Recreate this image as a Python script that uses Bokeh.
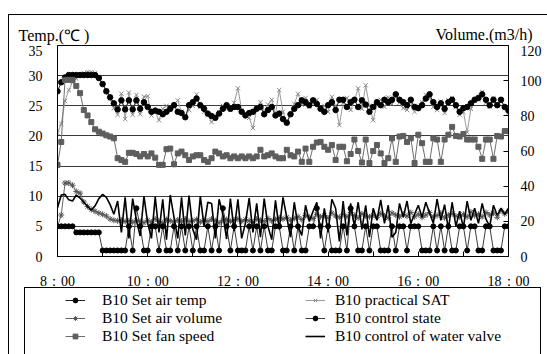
from bokeh.plotting import figure
from bokeh.layouts import column
from bokeh.models import (Range1d, LinearAxis, FixedTicker, Legend, LegendItem, Label)
from bokeh.embed import file_html
from bokeh.resources import INLINE

# ---- data: one sample every 5 minutes from 8:00 to 18:00 ----
minutes = list(range(0, 605, 5))

set_air_temp = [
    27.4, 28.9, 29.7, 30.1, 30.1, 30.1, 30.1, 30.1, 30.1, 30.1, 30.1, 29.6,
    28.6, 27.4, 26.4, 25.4, 24.4, 25.9, 24.4, 25.9, 24.4, 25.9, 24.5, 25.6,
    24.8, 24.0, 24.2, 24.0, 23.6, 24.0, 24.5, 25.1, 24.0, 23.8, 23.1, 25.1,
    25.6, 26.2, 25.1, 24.5, 23.7, 23.3, 23.0, 23.7, 24.5, 25.1, 24.5, 24.8,
    24.8, 24.0, 23.4, 23.8, 24.0, 24.5, 24.8, 23.6, 24.3, 24.8, 23.4, 23.7,
    22.8, 22.2, 23.6, 24.5, 25.1, 25.9, 25.6, 25.1, 25.9, 25.3, 24.5, 24.0,
    25.1, 25.6, 24.3, 26.0, 26.0, 24.8, 25.6, 26.0, 24.8, 25.9, 25.2, 24.0,
    24.8, 25.6, 25.1, 26.0, 25.6, 26.0, 26.9, 26.0, 25.6, 25.1, 26.0, 24.8,
    24.6, 25.1, 26.2, 26.9, 25.6, 24.8, 25.4, 24.5, 25.6, 26.0, 25.1, 24.0,
    24.6, 24.8, 25.4, 26.0, 26.3, 26.9, 26.0, 25.1, 26.0, 25.1, 26.0, 24.8,
    24.2]

practical_sat = [
    20.5, 22.0, 25.8, 27.6, 28.9, 29.5, 30.0, 30.4, 30.6, 30.6, 30.4, 29.8,
    28.7, 27.6, 26.2, 24.6, 23.5, 27.0, 22.8, 27.2, 23.5, 26.8, 23.6, 26.5,
    26.6, 23.4, 24.0, 22.6, 24.5, 25.0, 24.3, 25.2, 25.9, 24.0, 23.2, 24.3,
    25.0, 26.9, 24.8, 24.0, 23.5, 22.3, 23.2, 24.0, 25.0, 24.5, 24.3, 25.5,
    27.9, 24.3, 23.5, 23.0, 21.3, 24.5, 25.6, 24.0, 25.2, 26.0, 23.5, 27.6,
    24.0, 22.1, 23.5, 25.3, 27.0, 25.2, 26.3, 24.8, 25.6, 26.0, 24.5, 25.0,
    24.0, 26.5, 25.0, 21.8, 25.5, 26.3, 24.3, 25.8, 27.9, 24.5, 28.4, 25.0,
    22.6, 25.3, 26.0, 24.8, 26.4, 25.3, 26.5, 25.5, 24.6, 24.3, 25.6, 24.0,
    25.0, 25.6, 26.8, 26.3, 24.8, 24.3, 25.7, 23.8, 25.9, 26.3, 24.8, 23.5,
    24.0, 20.6, 24.5, 25.8, 26.0, 27.3, 25.5, 24.8, 26.3, 25.0, 25.8, 24.6,
    23.8]

set_fan_speed = [
    15.2, 19.0, 29.3, 29.3, 29.3, 28.3, 27.1, 24.3, 23.4, 22.3, 21.1, 20.7,
    20.4, 20.1, 19.9, 19.6, 16.3, 16.0, 15.7, 17.2, 17.2, 17.0, 16.6, 17.0,
    16.6, 17.1, 16.4, 15.2, 15.2, 17.8, 17.9, 15.3, 17.1, 17.4, 16.8, 16.0,
    16.6, 16.8, 16.8, 16.0, 15.7, 16.3, 17.4, 17.1, 16.6, 16.8, 16.3, 16.6,
    16.3, 16.6, 16.3, 16.6, 16.3, 16.6, 17.7, 16.6, 16.8, 17.1, 16.6, 16.3,
    16.3, 17.7, 16.8, 16.6, 17.4, 15.7, 17.9, 15.7, 18.2, 18.9, 19.0, 18.2,
    17.7, 18.5, 16.0, 18.2, 18.2, 15.8, 17.0, 19.4, 17.5, 15.6, 19.4, 15.5,
    17.5, 18.5, 17.1, 15.5, 16.3, 19.6, 15.7, 19.9, 20.0, 19.0, 19.6, 15.5,
    20.2, 18.8, 15.7, 15.7, 19.6, 19.4, 15.7, 19.4, 20.2, 21.5, 20.0, 19.9,
    20.3, 19.4, 19.4, 19.4, 18.2, 16.2, 19.4, 19.4, 16.2, 20.0, 19.9, 20.8,
    20.8]

set_air_volume = [  # m3/h, right axis
    17.0, 23.6, 41.8, 41.8, 40.5, 37.0, 36.0, 31.0, 28.5, 26.7, 25.7, 24.7,
    24.0, 23.0, 21.3, 20.6, 20.3, 20.6, 19.9, 20.3, 19.5, 20.6, 20.0, 19.2,
    20.6, 19.5, 21.3, 20.0, 19.2, 21.0, 20.3, 19.6, 20.8, 20.0, 21.3, 19.9,
    20.3, 21.0, 19.6, 20.6, 20.0, 21.3, 20.3, 19.2, 20.6, 21.0, 20.0, 20.8,
    21.3, 20.0, 21.0, 20.3, 19.6, 21.3, 20.6, 20.0, 21.6, 20.3, 21.0, 22.0,
    21.3, 22.3, 20.6, 21.6, 22.6, 21.0, 23.3, 22.3, 21.6, 24.0, 22.6, 23.3,
    22.0, 24.7, 23.0, 22.3, 24.0, 22.6, 25.0, 23.3, 22.0, 24.3, 23.0, 22.6,
    23.6, 22.3, 24.3, 23.0, 22.0, 24.7, 23.6, 22.6, 24.0, 23.0, 25.0, 22.6,
    24.0, 22.3, 23.6, 25.0, 22.6, 23.3, 24.7, 22.0, 23.6, 24.3, 23.0, 22.6,
    24.0, 22.6, 25.3, 23.3, 24.0, 22.6, 25.0, 23.6, 24.7, 22.3, 26.0, 24.3,
    25.3]

control_state = [
    5, 5, 5, 5, 5, 4, 4, 4, 4, 4, 4, 4,
    1, 1, 1, 1, 1, 1, 1, 5, 1, 8, 5, 1,
    1, 5, 5, 1, 5, 1, 1, 5, 1, 5, 1, 5,
    1, 5, 1, 1, 5, 1, 5, 1, 8, 5, 1, 5,
    1, 1, 1, 5, 1, 5, 1, 5, 1, 1, 5, 5,
    1, 1, 5, 1, 5, 1, 1, 5, 5, 8, 5, 1,
    5, 1, 1, 1, 5, 1, 8, 5, 1, 1, 5, 1,
    5, 5, 1, 1, 1, 5, 1, 5, 5, 1, 5, 5,
    5, 1, 1, 1, 5, 1, 5, 1, 5, 1, 1, 5,
    5, 1, 5, 5, 1, 1, 5, 5, 1, 1, 1, 5,
    5]

water_valve = [
    8.1, 10.2, 10.3, 9.4, 9.2, 10.2, 9.7, 9.0, 8.3, 7.7, 8.4, 9.6,
    10.3, 9.8, 8.6, 7.0, 9.2, 4.0, 9.8, 3.0, 9.6, 6.0, 3.4, 10.0,
    5.5, 3.0, 9.9, 4.0, 9.5, 2.8, 10.2, 6.5, 3.0, 9.8, 3.5, 10.1,
    4.5, 2.8, 10.0, 5.0, 9.0, 8.8, 3.0, 9.5, 7.0, 2.9, 9.6, 4.2,
    9.5, 3.0, 5.5, 9.7, 4.0, 8.8, 3.2, 9.6, 5.0, 2.8, 9.3, 4.5,
    9.8, 6.5, 3.2, 9.0, 5.0, 3.5, 8.5, 5.8, 7.5, 9.0, 3.0, 8.0,
    4.0, 9.5, 8.0, 2.5, 9.2, 3.5, 8.8, 5.0, 9.0, 4.5, 8.5, 3.2,
    8.0, 6.0, 9.4, 5.5, 8.5, 3.2, 4.0, 8.8, 6.5, 9.2, 5.5, 7.0,
    8.5, 6.5, 9.0, 7.2, 5.5, 9.5, 6.0, 8.6, 4.5, 9.0, 5.0, 7.5,
    4.8, 9.2, 6.0, 8.0, 5.5, 8.8, 6.2, 5.0, 8.5, 6.8, 8.0, 7.0,
    8.0]

hour_ticks = [0, 60, 120, 180, 240, 300, 360, 420, 480, 540, 600]
hour_labels = ["8：00", "", "10：00", "", "12：00", "", "14：00", "", "16：00", "", "18：00"]
temp_ticks = [0, 5, 10, 15, 20, 25, 30, 35]
volume_ticks = [0, 20, 40, 60, 80, 100, 120]

SERIF = "Liberation Serif"
W = 547
H_HEAD, H_MAIN, H_LEG = 45, 246, 63


def frame_lines(positions, sizes):
    """CSS background lines for the outer chart border and the legend box."""
    n = len(positions)
    return {
        "background-color": "white",
        "background-image": ", ".join(["linear-gradient(#000, #000)"] * n),
        "background-position": ", ".join(positions),
        "background-size": ", ".join(sizes),
        "background-repeat": "no-repeat",
    }


def bare_figure(height, css):
    f = figure(width=W, height=height, x_range=Range1d(0, 1), y_range=Range1d(0, 1),
               output_backend="svg", toolbar_location=None, title=None,
               x_axis_location=None, y_axis_location=None, frame_align=False,
               min_border_left=0, min_border_right=0, min_border_top=0, min_border_bottom=0,
               styles=css)
    f.grid.visible = False
    f.outline_line_color = None
    f.background_fill_color = None
    f.border_fill_color = None
    return f


# ---------------- header with the two axis titles ----------------
head = bare_figure(H_HEAD, frame_lines(["8px 14px", "8px 14px"], ["1px 60px", "600px 1px"]))
head.x_range = Range1d(0, W)
head.y_range = Range1d(H_HEAD, 0)
head.add_layout(Label(x=18, y=35, text="Temp.(℃ )", text_font=SERIF, text_font_size="16px",
                      text_baseline="middle", text_align="left", text_color="black"))
head.add_layout(Label(x=532, y=34, text="Volume.(m3/h)", text_font=SERIF, text_font_size="16px",
                      text_baseline="middle", text_align="right", text_color="black"))

# ---------------- main chart ----------------
p = figure(width=W, height=H_MAIN, x_range=Range1d(0, 600), y_range=Range1d(0, 35),
           output_backend="svg", toolbar_location=None, title=None, frame_align=False,
           min_border_left=57, min_border_right=39, min_border_top=0, min_border_bottom=34,
           styles=frame_lines(["8px 0px", "24px 242px", "24px 242px", "540px 242px"],
                              ["1px 400px", "517px 1px", "1px 40px", "1px 40px"]))
p.extra_y_ranges = {"vol": Range1d(0, 120)}
p.background_fill_color = "white"
p.border_fill_color = None
p.outline_line_color = "black"

xa = p.xaxis[0]
xa.ticker = FixedTicker(ticks=hour_ticks)
xa.major_label_overrides = {t: lab for t, lab in zip(hour_ticks, hour_labels)}
xa.major_tick_in = 5
xa.major_tick_out = 0
xa.minor_tick_line_color = None
xa.axis_line_color = "black"
xa.major_tick_line_color = "black"
xa.major_label_standoff = 17
xa.major_label_text_font = SERIF
xa.major_label_text_font_size = "14px"
xa.major_label_text_color = "black"

ya = p.yaxis[0]
ya.ticker = FixedTicker(ticks=temp_ticks)
ya.major_tick_in = 0
ya.major_tick_out = 0
ya.minor_tick_line_color = None
ya.axis_line_color = "black"
ya.major_label_standoff = 15
ya.major_label_text_font = SERIF
ya.major_label_text_font_size = "14px"
ya.major_label_text_color = "black"

ra = LinearAxis(y_range_name="vol", ticker=FixedTicker(ticks=volume_ticks))
ra.major_tick_in = 5
ra.major_tick_out = 0
ra.minor_tick_line_color = None
ra.axis_line_color = "black"
ra.major_tick_line_color = "black"
ra.major_label_standoff = 12
ra.major_label_text_font = SERIF
ra.major_label_text_font_size = "14px"
ra.major_label_text_color = "black"
p.add_layout(ra, "right")

p.xgrid.visible = False
p.ygrid.ticker = FixedTicker(ticks=temp_ticks)
p.ygrid.grid_line_color = "#3a3a3a"
p.ygrid.grid_line_width = 1

STY = {
    "sat_line": dict(line_color="#9a9a9a", line_width=1),
    "sat_pts": dict(marker="x", size=6, line_color="#888888", line_width=1),
    "set_line": dict(line_color="#222222", line_width=1),
    "set_pts": dict(marker="circle", size=5.5, fill_color="black", line_color="black"),
    "fan_line": dict(line_color="#6e6e6e", line_width=1),
    "fan_pts": dict(marker="square", size=5, fill_color="#5e5e5e", line_color="#5e5e5e"),
    "vol_line": dict(line_color="#666666", line_width=1),
    "vol_pts": dict(marker="asterisk", size=6, line_color="#555555", line_width=1),
    "cs_line": dict(line_color="#3c3c3c", line_width=1),
    "cs_pts": dict(marker="circle", size=5, fill_color="black", line_color="black"),
    "valve_line": dict(line_color="black", line_width=1.6),
}

p.line(minutes, practical_sat, **STY["sat_line"])
p.scatter(minutes, practical_sat, **STY["sat_pts"])
p.line(minutes, set_air_temp, **STY["set_line"])
p.scatter(minutes, set_air_temp, **STY["set_pts"])
p.line(minutes, set_fan_speed, **STY["fan_line"])
p.scatter(minutes, set_fan_speed, **STY["fan_pts"])
p.line(minutes, set_air_volume, y_range_name="vol", **STY["vol_line"])
p.scatter(minutes, set_air_volume, y_range_name="vol", **STY["vol_pts"])
p.line(minutes, control_state, **STY["cs_line"])
p.scatter(minutes, control_state, **STY["cs_pts"])
p.line(minutes, water_valve, **STY["valve_line"])

# ---------------- legend strip ----------------
# The same series are drawn again here, scrolled out of view, so that the legend
# can show each series' line and marker sample.
leg = bare_figure(H_LEG, frame_lines(["8px 0px", "24px 0px", "540px 0px"],
                                     ["1px 100px", "1px 100px", "1px 100px"]))
leg.x_range = Range1d(-20, -10)
leg.y_range = Range1d(-20, -10)


def sample(values, line_key, pts_key=None):
    rs = [leg.line(minutes, values, **STY[line_key])]
    if pts_key:
        rs.append(leg.scatter(minutes, values, **STY[pts_key]))
    return rs


common = dict(orientation="vertical", border_line_alpha=0, background_fill_alpha=0,
              padding=0, margin=0, spacing=0, glyph_width=20, glyph_height=12,
              label_height=18, label_text_font=SERIF, label_text_font_size="15.5px",
              label_text_color="black")
leg1 = Legend(items=[
    LegendItem(label="B10 Set air temp", renderers=sample(set_air_temp, "set_line", "set_pts")),
    LegendItem(label="B10 Set air volume", renderers=sample(set_air_volume, "vol_line", "vol_pts")),
    LegendItem(label="B10 Set fan speed", renderers=sample(set_fan_speed, "fan_line", "fan_pts")),
], location=(65, 9), label_standoff=17, **common)
leg2 = Legend(items=[
    LegendItem(label="B10 practical SAT", renderers=sample(practical_sat, "sat_line", "sat_pts")),
    LegendItem(label="B10 control state", renderers=sample(control_state, "cs_line", "cs_pts")),
    LegendItem(label="B10 control of water valve", renderers=sample(water_valve, "valve_line")),
], location=(305, 9), label_standoff=10, **common)
leg.add_layout(leg1)
leg.add_layout(leg2)

layout = column(head, p, leg, spacing=0)
open("out.html", "w").write(file_html(layout, INLINE))
